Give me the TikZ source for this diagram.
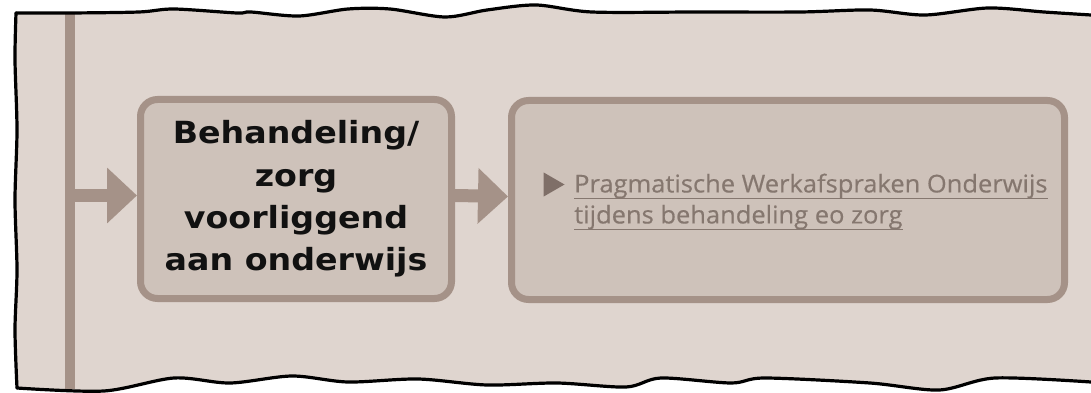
\documentclass[tikz,border=0pt]{standalone}
\usepackage{fontspec}
\usetikzlibrary{arrows.meta,shapes.geometric}
\newfontfamily\boxfont{DejaVu Sans}[FakeStretch=1.09]
\newfontfamily\linkfont{Open Sans}[FakeBold=0.4,FakeStretch=1.04]
\definecolor{bgc}{HTML}{DFD5CF}
\definecolor{boxfillc}{HTML}{CEC2BA}
\definecolor{boxlinec}{HTML}{A59288}
\definecolor{linkc}{HTML}{85776F}
\definecolor{bulletc}{HTML}{7F6F68}
\definecolor{inkc}{HTML}{111111}
\newcommand{\lnkul}[1]{\setbox0=\hbox{#1}\rlap{\rule[-7pt]{\wd0}{1.8pt}}\box0}
\tikzset{
  stepbox/.style={draw=boxlinec, fill=boxfillc, line width=7pt, rounded corners=17pt,
    rectangle, inner sep=0pt, minimum height=199pt},
  barstyle/.style={fill=boxlinec, draw=none, rectangle, inner sep=0pt,
    minimum width=10pt, minimum height=376pt},
  flowarrow/.style={draw=boxlinec, line width=13pt, -{Triangle[length=30pt,width=54pt]}},
  frameline/.style={draw=black, line width=3.2pt, line cap=round, line join=round},
  titletext/.style={font=\boxfont\bfseries\fontsize{30.5}{42.3}\selectfont, text=inkc, align=center},
  linktext/.style={font=\linkfont\fontsize{24.5}{31}\selectfont, text=linkc, align=left, inner sep=0pt},
  bulletmark/.style={isosceles triangle, isosceles triangle apex angle=60, fill=bulletc,
    inner sep=0pt, minimum height=21pt, minimum width=24pt, draw=none}
}
\begin{document}
\begin{tikzpicture}[x=1pt,y=-1pt]
\useasboundingbox (0,0) rectangle (1091,393);
\fill[white] (0,0) rectangle (1091,393);
% paper
\fill[bgc] plot[smooth] coordinates {(16,13) (70,13) (139,12) (174,9) (237,13) (251,12) (299,16) (348,9) (390,9) (445,17) (487,10) (536,5) (592,12) (696,12) (800,12) (870,10) (925,15) (988,8) (1044,12) (1091,15)}
  -- (1091,382) -- plot[smooth] coordinates {(1091,382) (995,378) (939,390) (870,383) (765,378) (731,383) (661,378) (626,387) (557,383) (487,385) (418,379) (348,382) (292,376) (230,383) (174,378) (104,391) (17,388)}
  -- plot[smooth] coordinates {(17,388) (15,330) (17,270) (15,200) (17,130) (15,60) (16,13)} -- cycle;
% bar
\node[barstyle] (bar) at (70,200.5) {};
% boxes
\node[stepbox, minimum width=311pt, titletext] (box1) at (296,199) {Behandeling/\\zorg\\voorliggend\\aan onderwijs};
\node[stepbox, minimum width=553pt] (box2) at (788,200) {};
% arrows
\draw[flowarrow] ([yshift=3.5pt]bar.east |- box1.west) -- ([yshift=3.5pt]box1.west);
\draw[flowarrow] ([yshift=3.5pt]box1.east) -- ([yshift=3.5pt]box2.west);
% link
\node[bulletmark] (bul) at (550.5,184.5) {};
\node[linktext, anchor=north west] (link) at (574,173.5) {\lnkul{Pragmatische Werkafspraken Onderwijs}\\\lnkul{tijdens behandeling eo zorg}};
% frame outline
\draw[frameline] plot[smooth] coordinates {(16,13) (70,13) (139,12) (174,9) (237,13) (251,12) (299,16) (348,9) (390,9) (445,17) (487,10) (536,5) (592,12) (696,12) (800,12) (870,10) (925,15) (988,8) (1044,12) (1091,15)};
\draw[frameline] plot[smooth] coordinates {(17,388) (15,330) (17,270) (15,200) (17,130) (15,60) (16,13)};
\draw[frameline] plot[smooth] coordinates {(1091,382) (995,378) (939,390) (870,383) (765,378) (731,383) (661,378) (626,387) (557,383) (487,385) (418,379) (348,382) (292,376) (230,383) (174,378) (104,391) (17,388)};
\end{tikzpicture}
\end{document}
